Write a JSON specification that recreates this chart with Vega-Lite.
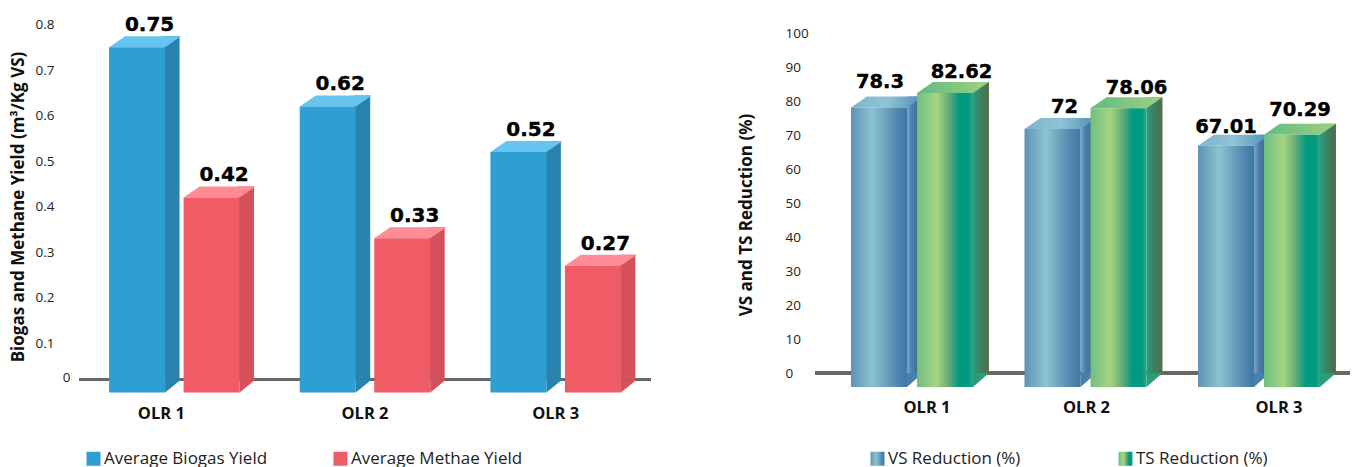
{
"$schema":"https://vega.github.io/schema/vega-lite/v6.json",
"padding":{"left":9,"top":14.5,"right":0,"bottom":0},
"autosize":{"type":"pad"},
"background":"white",
"spacing":84,
"resolve":{"scale":{"color":"independent","xOffset":"independent","x":"independent","y":"independent"}},
"config":{"view":{"stroke":null},"font":"Open Sans"},
"datasets":{
"a":[{"olr":"OLR 1","series":"Average Biogas Yield","value":0.75},{"olr":"OLR 1","series":"Average Methae Yield","value":0.42},{"olr":"OLR 2","series":"Average Biogas Yield","value":0.62},{"olr":"OLR 2","series":"Average Methae Yield","value":0.33},{"olr":"OLR 3","series":"Average Biogas Yield","value":0.52},{"olr":"OLR 3","series":"Average Methae Yield","value":0.27}],
"b":[{"olr":"OLR 1","series":"VS Reduction (%)","value":78.3},{"olr":"OLR 1","series":"TS Reduction (%)","value":82.62},{"olr":"OLR 2","series":"VS Reduction (%)","value":72},{"olr":"OLR 2","series":"TS Reduction (%)","value":78.06},{"olr":"OLR 3","series":"VS Reduction (%)","value":67.01},{"olr":"OLR 3","series":"TS Reduction (%)","value":70.29}]
},
"hconcat":[
{"width":572,"height":364,"data":{"name":"a"},
"resolve":{"scale":{"xOffset":"independent"}},
"encoding":{
"x":{"field":"olr","type":"nominal","title":null,"scale":{"type":"band","paddingInner":0,"paddingOuter":0},"axis":{"domain":false,"ticks":false,"labelAngle":0,"labelFont":"Open Sans","labelFontWeight":"bold","labelFontSize":16.5,"labelColor":"#111","labelPadding":16.5,"labelOffset":{"condition":{"test":"datum.value=='OLR 1'","value":-13},"value":0}}},
"xOffset":{"field":"series","type":"nominal","sort":["Average Biogas Yield","Average Methae Yield"],"scale":{"type":"band","paddingInner":0.248,"paddingOuter":0.4036}},
"y":{"field":"value","type":"quantitative","title":"Biogas and Methane Yield (m³/Kg VS)","scale":{"domain":[0,0.8],"nice":false},"axis":{"values":[0,0.1,0.2,0.3,0.4,0.5,0.6,0.7,0.8],"labelExpr":"datum.value==0?'0':datum.label","grid":false,"domain":false,"ticks":false,"labelFont":"Open Sans","labelFontSize":13.5,"labelColor":"#222","labelPadding":{"condition":{"test":"datum.value==0","value":9},"value":25},"labelOffset":{"condition":{"test":"datum.value==0","value":-11},"value":0},"titleFont":"Open Sans","titleFontWeight":"bold","titleFontSize":17,"titleColor":"#111","titlePadding":8,"titleY":182}}
},
"layer":[
{"mark":{"type":"rule","color":"#666","strokeWidth":3,"yOffset":-9},"encoding":{"x":null,"xOffset":null,"y":{"datum":0}}},
{"mark":{"type":"bar","yOffset":-11,"y2Offset":-9},"encoding":{"xOffset":{"field":"series","type":"nominal","sort":["Average Biogas Yield","Average Methae Yield"],"scale":{"type":"band","paddingInner":0.785,"paddingOuter":0.672,"align":0.844}},"y2":{"datum":0},"fill":{"condition":{"test":"datum.series=='Average Biogas Yield'","value":"#2884ae"},"value":"#d4505a"}}},
{"mark":{"type":"point","filled":true,"size":4,"opacity":1,"strokeWidth":0,"shape":"M28,4L44,-9L28,-9Z"},"encoding":{"y":{"datum":0},"fill":{"condition":{"test":"datum.series=='Average Biogas Yield'","value":"#2884ae"},"value":"#d4505a"}}},
{"mark":{"type":"point","filled":true,"size":4,"opacity":1,"strokeWidth":0,"shape":"M-28,0L-12,-11L44,-11L28,0Z"},"encoding":{"fill":{"condition":{"test":"datum.series=='Average Biogas Yield'","value":"#66c4f0"},"value":"#ff8c94"}}},
{"mark":{"type":"bar","y2Offset":4},"encoding":{"y2":{"datum":0},"color":{"field":"series","type":"nominal","sort":["Average Biogas Yield","Average Methae Yield"],"scale":{"range":["#2e9fd2","#f05c65"]},"legend":{"title":null,"orient":"none","direction":"horizontal","columns":2,"legendX":6,"legendY":425.5,"symbolType":"square","symbolSize":196,"symbolStrokeWidth":0,"labelFont":"Open Sans","labelFontSize":17,"labelLimit":400,"labelColor":"#222","labelOffset":2,"columnPadding":64,"padding":0}}}},
{"mark":{"type":"text","dx":12.5,"dy":-16,"baseline":"alphabetic","font":"DejaVu Sans","fontWeight":"bold","fontSize":20,"color":"#000","stroke":"#000","strokeWidth":0.4},"encoding":{"text":{"field":"value","type":"quantitative"}}}
]},
{"width":535,"height":348.5,"data":{"name":"b"},
"resolve":{"scale":{"xOffset":"independent"}},
"encoding":{
"x":{"field":"olr","type":"nominal","title":null,"scale":{"type":"band","paddingInner":0,"paddingOuter":0.0418,"align":0.707},"axis":{"domain":false,"ticks":false,"labelAngle":0,"labelFont":"Open Sans","labelFontWeight":"bold","labelFontSize":16.5,"labelColor":"#111","labelPadding":26,"labelOffset":{"condition":[{"test":"datum.value=='OLR 1'","value":15},{"test":"datum.value=='OLR 3'","value":20}],"value":1}}},
"xOffset":{"field":"series","type":"nominal","sort":["VS Reduction (%)","TS Reduction (%)"],"scale":{"type":"band","paddingInner":0.1515,"paddingOuter":0.39}},
"y":{"field":"value","type":"quantitative","title":"VS and TS Reduction (%)","scale":{"domain":[0,102.8],"nice":false},"axis":{"values":[0,10,20,30,40,50,60,70,80,90,100],"grid":false,"domain":false,"ticks":false,"labelFont":"Open Sans","labelFontSize":13.5,"labelColor":"#222","labelAlign":"left","labelPadding":30,"titleFont":"Open Sans","titleFontWeight":"bold","titleFontSize":17,"titleColor":"#111","titlePadding":30,"titleY":190}}
},
"layer":[
{"mark":{"type":"rule","color":"#666","strokeWidth":3},"encoding":{"x":null,"xOffset":null,"y":{"datum":0}}},
{"mark":{"type":"bar","yOffset":-11},"encoding":{"xOffset":{"field":"series","type":"nominal","sort":["VS Reduction (%)","TS Reduction (%)"],"scale":{"type":"band","paddingInner":0.7576,"paddingOuter":0.693,"align":0.893}},"y2":{"datum":0},"fill":{"condition":{"test":"datum.series=='VS Reduction (%)'","value":{"gradient":"linear","x1":0,"y1":0,"x2":1,"y2":0,"stops":[{"offset":0,"color":"#7aa8cc"},{"offset":0.3,"color":"#4a80ac"},{"offset":1,"color":"#3d5f7c"}]}},"value":{"gradient":"linear","x1":0,"y1":0,"x2":1,"y2":0,"stops":[{"offset":0,"color":"#2a9c7c"},{"offset":0.5,"color":"#3a8060"},{"offset":1,"color":"#566b45"}]}}}},
{"mark":{"type":"point","filled":true,"size":4,"opacity":1,"strokeWidth":0,"shape":"M28,14L44,0L28,0Z"},"encoding":{"y":{"datum":0},"fill":{"condition":{"test":"datum.series=='VS Reduction (%)'","value":"#4a80ac"},"value":"#2a9c7c"}}},
{"mark":{"type":"point","filled":true,"size":4,"opacity":1,"strokeWidth":0,"shape":"M-28,0L-12,-11L44,-11L28,0Z"},"encoding":{"fill":{"condition":{"test":"datum.series=='VS Reduction (%)'","value":{"gradient":"linear","x1":0,"y1":0,"x2":1,"y2":0,"stops":[{"offset":0,"color":"#7fb4cb"},{"offset":0.5,"color":"#8ec4d4"},{"offset":1,"color":"#4f8db8"}]}},"value":{"gradient":"linear","x1":0,"y1":0,"x2":1,"y2":0,"stops":[{"offset":0,"color":"#5fbb80"},{"offset":1,"color":"#a0d180"}]}}}},
{"mark":{"type":"bar","y2Offset":14},"encoding":{"y2":{"datum":0},"color":{"field":"series","type":"nominal","sort":["VS Reduction (%)","TS Reduction (%)"],"scale":{"range":[{"expr":"{gradient:'linear',x1:0,y1:0,x2:1,y2:0,stops:[{offset:0,color:'#5f92b6'},{offset:0.38,color:'#8cc3d2'},{offset:0.85,color:'#4e84ae'},{offset:1,color:'#3f78a8'}]}"},{"expr":"{gradient:'linear',x1:0,y1:0,x2:1,y2:0,stops:[{offset:0,color:'#6fbf82'},{offset:0.35,color:'#a5d581'},{offset:0.55,color:'#6cae78'},{offset:0.75,color:'#009a80'},{offset:0.92,color:'#009a80'},{offset:1,color:'#2fa88a'}]}"}]},"legend":{"title":null,"orient":"none","direction":"horizontal","columns":2,"legendX":54,"legendY":425.5,"symbolType":"square","symbolSize":196,"symbolStrokeWidth":0,"labelFont":"Open Sans","labelFontSize":17,"labelLimit":400,"labelColor":"#222","labelOffset":2,"columnPadding":96,"padding":0}}}},
{"mark":{"type":"text","dx":{"expr":"datum.value==78.3?1:datum.value==82.62?16.5:datum.value==72?12:datum.value==78.06?18:datum.value==67.01?0:8"},"dy":{"expr":"datum.value==78.3?-20:datum.value==82.62?-14.5:datum.value==72?-15.5:datum.value==78.06?-14:datum.value==67.01?-12.5:-19"},"baseline":"alphabetic","font":"DejaVu Sans","fontWeight":"bold","fontSize":19.5,"color":"#000","stroke":"#000","strokeWidth":0.4},"encoding":{"text":{"field":"value","type":"quantitative"}}}
]}
]}
